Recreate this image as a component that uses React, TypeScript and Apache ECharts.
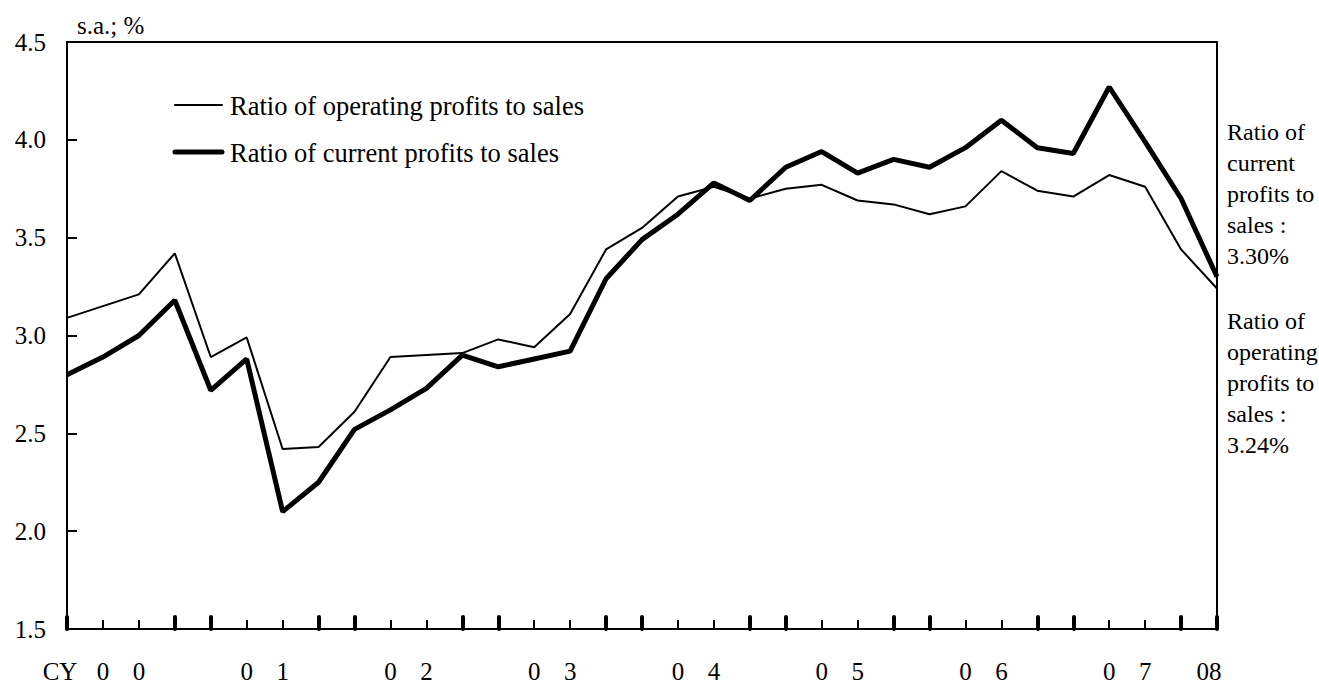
import React, { useEffect, useRef } from "react";
import * as echarts from "echarts";

const categories = [
  "2000Q1","2000Q2","2000Q3","2000Q4",
  "2001Q1","2001Q2","2001Q3","2001Q4",
  "2002Q1","2002Q2","2002Q3","2002Q4",
  "2003Q1","2003Q2","2003Q3","2003Q4",
  "2004Q1","2004Q2","2004Q3","2004Q4",
  "2005Q1","2005Q2","2005Q3","2005Q4",
  "2006Q1","2006Q2","2006Q3","2006Q4",
  "2007Q1","2007Q2","2007Q3","2007Q4",
  "2008Q1",
];

const xTickLabels = [
  "CY","0","0","",
  "","0","1","",
  "","0","2","",
  "","0","3","",
  "","0","4","",
  "","0","5","",
  "","0","6","",
  "","0","7","",
  "08",
];

const operatingRatio = [
  3.09, 3.15, 3.21, 3.42, 2.89, 2.99, 2.42, 2.43, 2.61, 2.89, 2.90, 2.91,
  2.98, 2.94, 3.11, 3.44, 3.55, 3.71, 3.76, 3.70, 3.75, 3.77, 3.69, 3.67,
  3.62, 3.66, 3.84, 3.74, 3.71, 3.82, 3.76, 3.44, 3.24,
];

const currentRatio = [
  2.80, 2.89, 3.00, 3.18, 2.72, 2.88, 2.10, 2.25, 2.52, 2.62, 2.73, 2.90,
  2.84, 2.88, 2.92, 3.29, 3.49, 3.62, 3.78, 3.69, 3.86, 3.94, 3.83, 3.90,
  3.86, 3.96, 4.10, 3.96, 3.93, 4.27, 3.99, 3.70, 3.30,
];

const seriesNames = [
  "Ratio of operating profits to sales",
  "Ratio of current profits to sales",
];
const seriesWidths = [2, 5];

const currentNote = "Ratio of\ncurrent\nprofits to\nsales :\n3.30%";
const operatingNote = "Ratio of\noperating\nprofits to\nsales :\n3.24%";
const unitLabel = "s.a.; %";

const FONT = "'Liberation Serif', 'Times New Roman', serif";

export default function App() {
  const ref = useRef<HTMLDivElement>(null);

  useEffect(() => {
    if (!ref.current) return;
    const chart = echarts.init(ref.current, null, { renderer: "svg" });

    const legendGraphics: any[] = [];
    seriesNames.forEach((name, i) => {
      const y = 105 + i * 47;
      legendGraphics.push({
        type: "line",
        shape: { x1: 175, y1: y, x2: 222, y2: y },
        style: { stroke: "#000", lineWidth: seriesWidths[i], lineCap: "round" },
      });
      legendGraphics.push({
        type: "text",
        x: 230,
        y: y + 1,
        style: {
          text: name,
          font: "26.5px " + FONT,
          fill: "#000",
          verticalAlign: "middle",
          align: "left",
        },
      });
    });

    const option = {
      animation: false,
      backgroundColor: "#ffffff",
      textStyle: { fontFamily: FONT, color: "#000" },
      grid: {
        left: 67,
        right: 102,
        top: 42,
        bottom: 52,
        show: true,
        borderColor: "#000",
        borderWidth: 2,
        backgroundColor: "transparent",
      },
      xAxis: [
        {
          type: "category",
          data: categories,
          boundaryGap: false,
          axisLine: { show: true, lineStyle: { color: "#000", width: 2 } },
          axisTick: {
            show: true,
            inside: true,
            length: 9,
            interval: (i: number) => i % 4 === 1 || i % 4 === 2,
            lineStyle: { color: "#000", width: 2 },
          },
          axisLabel: {
            show: true,
            interval: 0,
            margin: 30,
            fontFamily: FONT,
            fontSize: 25,
            color: "#000",
            formatter: (_v: string, i: number) =>
              i === 0
                ? "{cy|" + xTickLabels[i] + "}"
                : i === xTickLabels.length - 1
                ? "{yr|" + xTickLabels[i] + "}"
                : xTickLabels[i],
            rich: {
              cy: {
                fontFamily: FONT,
                fontSize: 25,
                color: "#000",
                padding: [0, 14, 0, 0],
              },
              yr: {
                fontFamily: FONT,
                fontSize: 25,
                color: "#000",
                padding: [0, 16, 0, 0],
              },
            },
          },
          splitLine: { show: false },
        },
        {
          type: "category",
          data: categories,
          boundaryGap: false,
          position: "bottom",
          axisLine: { show: false },
          axisTick: {
            show: true,
            inside: true,
            length: 12,
            interval: (i: number) => i % 4 === 0 || i % 4 === 3,
            lineStyle: { color: "#000", width: 4, cap: "round" },
          },
          axisLabel: { show: false },
          splitLine: { show: false },
        },
      ],
      yAxis: {
        type: "value",
        min: 1.5,
        max: 4.5,
        interval: 0.5,
        axisLine: { show: true, lineStyle: { color: "#000", width: 2 } },
        axisTick: {
          show: true,
          inside: true,
          length: 10,
          lineStyle: { color: "#000", width: 2 },
        },
        axisLabel: {
          margin: 21,
          fontFamily: FONT,
          fontSize: 25,
          color: "#000",
          formatter: (v: number) => v.toFixed(1),
        },
        splitLine: { show: false },
      },
      graphic: [
        ...legendGraphics,
        {
          type: "text",
          left: 77,
          top: 13,
          style: { text: unitLabel, font: "25px " + FONT, fill: "#000" },
        },
        {
          type: "text",
          x: 1227,
          y: 194,
          style: {
            text: currentNote,
            font: "24px " + FONT,
            fill: "#000",
            lineHeight: 31,
            verticalAlign: "middle",
            align: "left",
          },
        },
        {
          type: "text",
          x: 1227,
          y: 383,
          style: {
            text: operatingNote,
            font: "24px " + FONT,
            fill: "#000",
            lineHeight: 31,
            verticalAlign: "middle",
            align: "left",
          },
        },
      ],
      series: [
        {
          name: seriesNames[0],
          type: "line",
          data: operatingRatio,
          showSymbol: false,
          symbol: "none",
          lineStyle: { color: "#000", width: seriesWidths[0] },
          itemStyle: { color: "#000" },
          z: 3,
        },
        {
          name: seriesNames[1],
          type: "line",
          data: currentRatio,
          showSymbol: false,
          symbol: "none",
          lineStyle: { color: "#000", width: seriesWidths[1] },
          itemStyle: { color: "#000" },
          z: 4,
        },
      ],
    };
    chart.setOption(option);
    return () => chart.dispose();
  }, []);

  return (
    <div
      ref={ref}
      style={{ position: "fixed", left: 0, top: 0, width: 1319, height: 684 }}
    />
  );
}
